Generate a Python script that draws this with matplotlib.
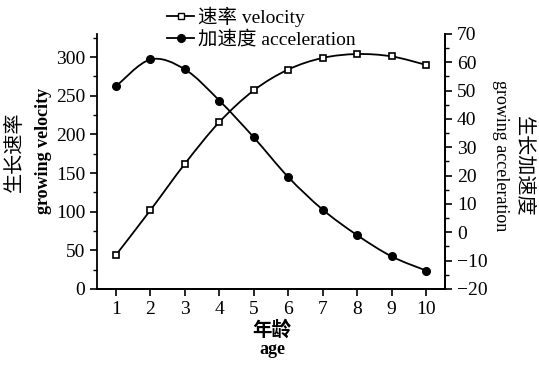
import numpy as np
import matplotlib.pyplot as plt
from matplotlib.path import Path
from matplotlib.patches import PathPatch
from matplotlib.lines import Line2D
from matplotlib.ticker import MultipleLocator

plt.rcParams['font.family'] = ['Liberation Serif', 'Noto Sans CJK SC']
plt.rcParams['axes.linewidth'] = 1.3

age = [1, 2, 3, 4, 5, 6, 7, 8, 9, 10]
velocity = [44, 102, 162, 216, 257, 284, 299, 304, 301, 290]
acceleration = [51.5, 61.0, 57.5, 46.5, 33.5, 19.5, 8.0, -1.0, -8.5, -13.5]


def smooth_path(x, y):
    # catmull-rom segments turned into cubic bezier pieces
    pts = np.column_stack([x, y]).astype(float)
    ext = np.vstack([pts[0], pts, pts[-1]])
    verts = [pts[0]]
    codes = [Path.MOVETO]
    for i in range(1, len(ext) - 2):
        p0, p1, p2, p3 = ext[i - 1], ext[i], ext[i + 1], ext[i + 2]
        verts += [p1 + (p2 - p0) / 6, p2 - (p3 - p1) / 6, p2]
        codes += [Path.CURVE4] * 3
    return Path(verts, codes)


fig = plt.figure(figsize=(5.39, 3.68), dpi=100)
ax1 = fig.add_axes([0.18, 0.2147, 0.6456, 0.693])
ax2 = ax1.twinx()

ax1.add_patch(PathPatch(smooth_path(age, velocity), fill=False, lw=1.3, ec='black', zorder=2))
ax1.plot(age, velocity, ls='none', marker='s', ms=5, mfc='white', mec='black', mew=1.2, zorder=3)

ax2.add_patch(PathPatch(smooth_path(age, acceleration), fill=False, lw=1.3, ec='black', zorder=2))
ax2.plot(age, acceleration, ls='none', marker='o', ms=5.5, mfc='black', mec='black', zorder=3)

ax1.set_xlim(0.45, 10.55)
ax1.set_ylim(0, 330)
ax2.set_ylim(-20, 70)
ax1.set_xticks(age)
ax1.yaxis.set_major_locator(MultipleLocator(50))
ax1.yaxis.set_minor_locator(MultipleLocator(25))
ax2.yaxis.set_major_locator(MultipleLocator(10))
ax2.yaxis.set_minor_locator(MultipleLocator(5))

for ax in (ax1, ax2):
    ax.spines['top'].set_visible(False)
    ax.tick_params(which='major', length=5, width=1.2, labelsize=14, direction='out')
    ax.tick_params(which='minor', length=3, width=1.0, direction='out')
ax2.spines['left'].set_visible(False)

fig.text(0.028, 0.588, '生长速率', rotation=90, ha='center', va='center', fontsize=14.5)
fig.text(0.08, 0.59, 'growing velocity', rotation=90, ha='center', va='center',
         fontsize=13, fontweight='bold')
fig.text(0.928, 0.576, 'growing acceleration', rotation=270, ha='center', va='center',
         fontsize=13)
fig.text(0.97, 0.549, '生长加速度', rotation=270, ha='center', va='center', fontsize=14.5)
fig.text(0.505, 0.103, '年龄', ha='center', va='center', fontsize=14, fontweight='bold')
fig.text(0.505, 0.049, 'age', ha='center', va='center', fontsize=13, fontweight='bold')

handles = [
    Line2D([], [], color='black', lw=1.3, marker='s', ms=5, mfc='white', mec='black'),
    Line2D([], [], color='black', lw=1.3, marker='o', ms=5.5, mfc='black'),
]
fig.legend(handles, ['速率 velocity', '加速度 acceleration'], loc='upper left',
           bbox_to_anchor=(0.285, 1.02), frameon=False, fontsize=14,
           handlelength=1.4, handletextpad=0.2, labelspacing=0.2, borderpad=0.2)

fig.savefig('out.png', dpi=100)
